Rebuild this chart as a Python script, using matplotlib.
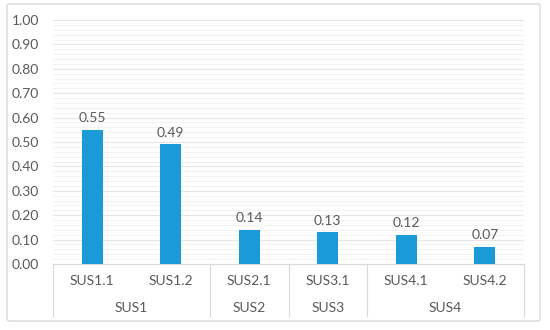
import matplotlib
matplotlib.use("Agg")
import matplotlib.pyplot as plt
from matplotlib.patches import FancyBboxPatch
from matplotlib.transforms import blended_transform_factory
import numpy as np

categories = ["SUS1.1", "SUS1.2", "SUS2.1", "SUS3.1", "SUS4.1", "SUS4.2"]
values = [0.55, 0.49, 0.14, 0.13, 0.12, 0.07]
value_labels = ["0.55", "0.49", "0.14", "0.13", "0.12", "0.07"]
groups = ["SUS1", "SUS2", "SUS3", "SUS4"]
group_sizes = [2, 1, 1, 2]
yticks = [0.0, 0.1, 0.2, 0.3, 0.4, 0.5, 0.6, 0.7, 0.8, 0.9, 1.0]

plt.rcParams['font.family'] = ['Lato', 'DejaVu Sans']
txt = '#595959'
fs = 10
fig = plt.figure(figsize=(5.5, 3.3), dpi=100)
border = FancyBboxPatch((7/550, 9/330), 533/550, 317/330,
                        boxstyle="round,pad=0,rounding_size=0.005",
                        transform=fig.transFigure, fill=False,
                        edgecolor='#d9d9d9', linewidth=1.0)
fig.patches.append(border)

ax = fig.add_axes([53/550, 66/330, 471/550, 244/330])
x = np.arange(len(categories))
ax.bar(x, values, width=0.27, color='#1a9bd7', zorder=3)
for xi, v, lab in zip(x, values, value_labels):
    ax.annotate(lab, (xi, v), xytext=(0, 4), textcoords='offset points',
                ha='center', va='bottom', fontsize=fs, color=txt)

ax.set_xlim(-0.5, len(categories) - 0.5)
ax.set_ylim(0, 1.0)
ax.set_yticks(yticks)
ax.set_yticklabels([f"{t:.2f}" for t in yticks])
ax.set_yticks(np.arange(0, 1.001, 0.02), minor=True)
ax.tick_params(axis='y', which='both', length=0, pad=10, labelsize=fs, labelcolor=txt)
ax.grid(axis='y', which='major', color='#e6e6e6', linewidth=0.8, zorder=0)
ax.grid(axis='y', which='minor', color='#f3f3f3', linewidth=0.8, zorder=0)
for s in ['top', 'right', 'left']:
    ax.spines[s].set_visible(False)
ax.spines['bottom'].set_color('#d9d9d9')
ax.set_xticks([])

trans = blended_transform_factory(ax.transData, ax.transAxes)
ax_h = 244
for xi, c in zip(x, categories):
    ax.text(xi, -17/ax_h, c, transform=trans, ha='center', va='center',
            fontsize=fs, color=txt)
start = 0
bounds = [-0.5]
for g, n in zip(groups, group_sizes):
    mid = start + (n - 1) / 2
    ax.text(mid, -44/ax_h, g, transform=trans, ha='center', va='center',
            fontsize=fs, color=txt)
    start += n
    bounds.append(start - 0.5)
for b in bounds:
    ax.plot([b, b], [0, -52/ax_h], transform=trans, color='#d9d9d9',
            linewidth=0.8, clip_on=False)

fig.savefig("out.png", dpi=100)
